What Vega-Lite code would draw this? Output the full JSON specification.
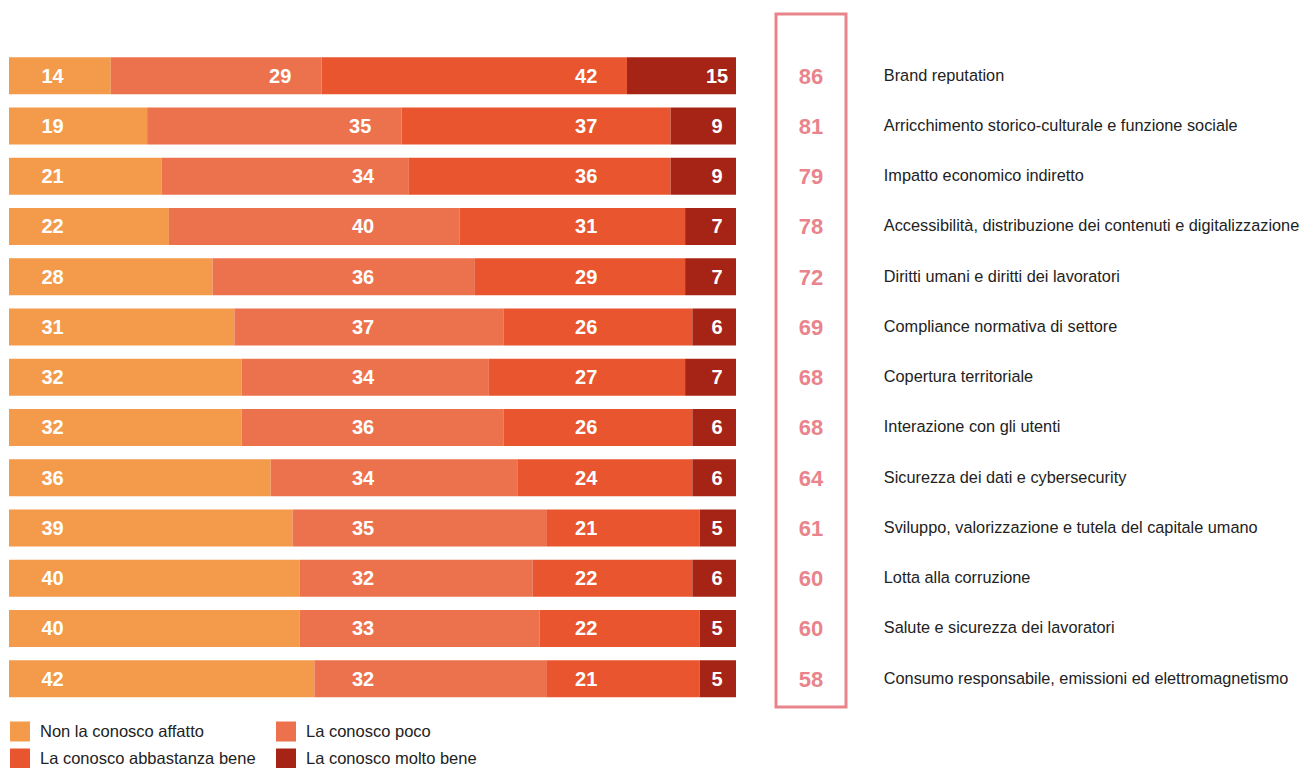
{
  "$schema": "https://vega.github.io/schema/vega-lite/v6.json",
  "autosize": {"type": "pad"},
  "padding": {"left": 9, "top": 12, "right": 0, "bottom": 0},
  "background": "white",
  "config": {
    "view": {"stroke": null},
    "font": "Liberation Sans",
    "concat": {"spacing": 38}
  },
  "data": {
    "values": [
      {"tema": "Brand reputation", "score": 86, "n1": 14, "n2": 29, "n3": 42, "n4": 15},
      {"tema": "Arricchimento storico-culturale e funzione sociale", "score": 81, "n1": 19, "n2": 35, "n3": 37, "n4": 9},
      {"tema": "Impatto economico indiretto", "score": 79, "n1": 21, "n2": 34, "n3": 36, "n4": 9},
      {"tema": "Accessibilità, distribuzione dei contenuti e digitalizzazione", "score": 78, "n1": 22, "n2": 40, "n3": 31, "n4": 7},
      {"tema": "Diritti umani e diritti dei lavoratori", "score": 72, "n1": 28, "n2": 36, "n3": 29, "n4": 7},
      {"tema": "Compliance normativa di settore", "score": 69, "n1": 31, "n2": 37, "n3": 26, "n4": 6},
      {"tema": "Copertura territoriale", "score": 68, "n1": 32, "n2": 34, "n3": 27, "n4": 7},
      {"tema": "Interazione con gli utenti", "score": 68, "n1": 32, "n2": 36, "n3": 26, "n4": 6},
      {"tema": "Sicurezza dei dati e cybersecurity", "score": 64, "n1": 36, "n2": 34, "n3": 24, "n4": 6},
      {"tema": "Sviluppo, valorizzazione e tutela del capitale umano", "score": 61, "n1": 39, "n2": 35, "n3": 21, "n4": 5},
      {"tema": "Lotta alla corruzione", "score": 60, "n1": 40, "n2": 32, "n3": 22, "n4": 6},
      {"tema": "Salute e sicurezza dei lavoratori", "score": 60, "n1": 40, "n2": 33, "n3": 22, "n4": 5},
      {"tema": "Consumo responsabile, emissioni ed elettromagnetismo", "score": 58, "n1": 42, "n2": 32, "n3": 21, "n4": 5}
    ]
  },
  "resolve": {"scale": {"y": "shared"}, "axis": {"y": "independent"}},
  "hconcat": [
    {
      "width": 727,
      "height": 693,
      "transform": [
        {"fold": ["n1", "n2", "n3", "n4"], "as": ["key", "value"]},
        {"stack": "value", "groupby": ["tema"], "sort": [{"field": "key", "order": "ascending"}], "as": ["x0", "x1"]},
        {"calculate": "datum.key === 'n1' ? 6 : datum.key === 'n2' ? min(48.7, datum.x1 - 5.7) : datum.key === 'n3' ? 79.4 : 97.4", "as": "lx"}
      ],
      "encoding": {
        "y": {
          "field": "tema", "type": "nominal", "sort": null,
          "scale": {"paddingInner": 0.2637, "paddingOuter": 0.5274, "align": 0.815},
          "axis": null
        }
      },
      "layer": [
        {
          "mark": {"type": "bar", "cornerRadius": 0},
          "encoding": {
            "x": {"field": "x0", "type": "quantitative", "scale": {"domain": [0, 100], "nice": false, "zero": false}, "axis": null},
            "x2": {"field": "x1"},
            "color": {
              "field": "key", "type": "nominal",
              "scale": {"domain": ["n1", "n2", "n3", "n4"], "range": ["#F39A4B", "#EC714D", "#E8552F", "#A62415"]},
              "legend": {
                "orient": "none",
                "direction": "horizontal",
                "legendX": 1,
                "legendY": 707.5,
                "title": null,
                "columns": 2,
                "columnPadding": 20,
                "rowPadding": 7,
                "symbolType": "square",
                "symbolSize": 400,
                "symbolStrokeWidth": 0,
                "symbolOpacity": 1,
                "labelOffset": 10,
                "labelFont": "Liberation Sans",
                "labelFontSize": 16.5,
                "labelColor": "#222222",
                "labelLimit": 400,
                "labelExpr": "{'n1': 'Non la conosco affatto', 'n2': 'La conosco poco', 'n3': 'La conosco abbastanza bene', 'n4': 'La conosco molto bene'}[datum.label]"
              }
            }
          }
        },
        {
          "mark": {"type": "text", "color": "white", "fontWeight": "bold", "fontSize": 20, "font": "Liberation Sans", "align": "center", "baseline": "middle", "dy": 1},
          "encoding": {
            "x": {"field": "lx", "type": "quantitative"},
            "text": {"field": "value", "type": "quantitative"}
          }
        }
      ]
    },
    {
      "width": 70,
      "height": 693,
      "view": {"stroke": "#E9848C", "strokeWidth": 3},
      "mark": {"type": "text", "color": "#E9848C", "fontWeight": "bold", "fontSize": 22, "font": "Liberation Sans", "align": "center", "baseline": "middle", "dy": 1},
      "encoding": {
        "y": {
          "field": "tema", "type": "nominal", "sort": null,
          "scale": {"paddingInner": 0.2637, "paddingOuter": 0.5274, "align": 0.815},
          "axis": {
            "orient": "right",
            "title": null,
            "domain": false,
            "ticks": false,
            "tickSize": 0,
            "labelPadding": 37.3,
            "labelAlign": "left",
            "labelBaseline": "middle",
            "labelFont": "Liberation Sans",
            "labelFontSize": 16.3,
            "labelColor": "#222222",
            "labelLimit": 600
          }
        },
        "text": {"field": "score", "type": "quantitative"}
      }
    }
  ]
}
